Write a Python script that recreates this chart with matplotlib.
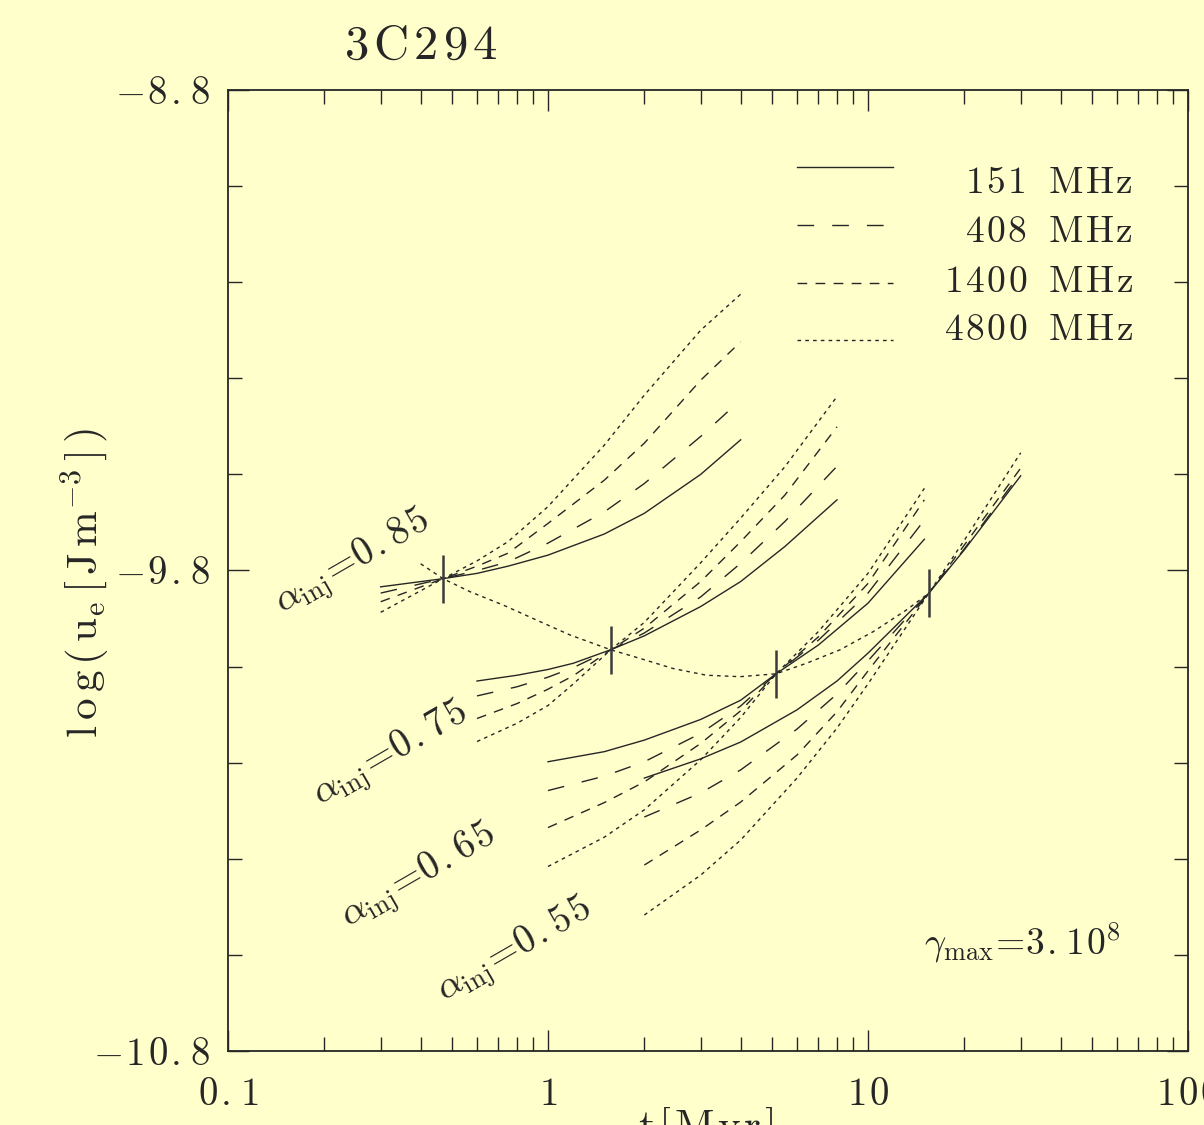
import numpy as np
import matplotlib as mpl
mpl.use('Agg')
import matplotlib.pyplot as plt
from matplotlib.ticker import FixedLocator, NullFormatter

mpl.rcParams['mathtext.fontset'] = 'cm'
mpl.rcParams['font.family'] = 'serif'
mpl.rcParams['font.serif'] = ['cmr10', 'DejaVu Serif']
mpl.rcParams['axes.formatter.use_mathtext'] = True

# ---- data ----
freq_labels = ['151 MHz', '408 MHz', '1400 MHz', '4800 MHz']
alpha_labels = ['0.85', '0.75', '0.65', '0.55']

# alpha_inj = 0.85
t_a = [0.3, 0.47, 0.6, 0.75, 1.0, 1.5, 2.0, 3.0, 4.0]
u_a = [
    [-9.834, -9.817, -9.806, -9.791, -9.768, -9.724, -9.681, -9.600, -9.528],
    [-9.847, -9.817, -9.800, -9.782, -9.743, -9.678, -9.619, -9.521, -9.445],
    [-9.865, -9.817, -9.791, -9.764, -9.702, -9.612, -9.535, -9.404, -9.324],
    [-9.887, -9.817, -9.780, -9.740, -9.667, -9.539, -9.435, -9.300, -9.225],
]
# alpha_inj = 0.75
t_b = [0.6, 0.8, 1.0, 1.2, 1.57, 2.0, 3.0, 4.0, 5.5, 8.0]
u_b = [
    [-10.030, -10.018, -10.006, -9.993, -9.965, -9.936, -9.875, -9.823, -9.750, -9.653],
    [-10.061, -10.042, -10.022, -10.002, -9.965, -9.930, -9.855, -9.785, -9.698, -9.583],
    [-10.108, -10.077, -10.047, -10.019, -9.965, -9.920, -9.823, -9.740, -9.643, -9.501],
    [-10.156, -10.118, -10.081, -10.036, -9.965, -9.908, -9.784, -9.691, -9.584, -9.438],
]
# alpha_inj = 0.65
t_c = [1.0, 1.5, 2.0, 3.0, 4.0, 5.16, 7.0, 10.0, 15.0]
u_c = [
    [-10.198, -10.177, -10.153, -10.110, -10.070, -10.015, -9.955, -9.868, -9.735],
    [-10.258, -10.228, -10.198, -10.139, -10.082, -10.015, -9.945, -9.847, -9.695],
    [-10.335, -10.283, -10.240, -10.160, -10.092, -10.015, -9.938, -9.827, -9.653],
    [-10.416, -10.355, -10.298, -10.194, -10.106, -10.015, -9.927, -9.806, -9.629],
]
# alpha_inj = 0.55
t_d = [2.0, 3.0, 4.0, 6.0, 8.0, 10.0, 15.5, 20.0, 30.0]
u_d = [
    [-10.232, -10.192, -10.157, -10.090, -10.030, -9.972, -9.847, -9.757, -9.603],
    [-10.313, -10.263, -10.215, -10.130, -10.057, -9.988, -9.847, -9.755, -9.597],
    [-10.413, -10.340, -10.282, -10.184, -10.094, -10.009, -9.847, -9.747, -9.587],
    [-10.517, -10.434, -10.361, -10.232, -10.128, -10.036, -9.847, -9.737, -9.555],
]

# locus through the crossing points
t_loc = [0.40, 0.47, 0.57, 0.725, 0.92, 1.17, 1.57, 1.94, 2.46, 3.13, 3.98,
         5.16, 6.43, 8.18, 10.4, 13.2, 15.5]
u_loc = [-9.786, -9.817, -9.844, -9.872, -9.903, -9.934, -9.965, -9.983, -10.004,
         -10.018, -10.021, -10.015, -9.993, -9.965, -9.927, -9.882, -9.847]

cross_t = [0.47, 1.57, 5.16, 15.5]
cross_u = [-9.817, -9.965, -10.015, -9.847]

xtick_vals = [0.1, 1, 10, 100]
xtick_labels = ['0.1', '1', '10', '100']
ytick_vals = [-10.8, -9.8, -8.8]
ytick_labels = ['-10.8', '-9.8', '-8.8']


def spaced(s, gap=0.1, word='\\ \\,'):
    # letter-spaced roman mathtext, like the old plotting package
    sep = '\\hspace{%g}' % gap
    out = []
    for ch in s:
        out.append(word if ch == ' ' else ch)
    return '$\\mathrm{' + sep.join(out) + '}$'


# ---- style ----
bg = '#ffffcc'
ink = '#262626'
styles = ['-', (0, (12, 13)), (0, (7, 6)), (0, (2.6, 3))]

fig = plt.figure(figsize=(12.04, 11.25), dpi=100, facecolor=bg)
ax = fig.add_axes([0.18937, 0.06578, 0.79734, 0.85422], facecolor=bg)

for t, u in [(t_a, u_a), (t_b, u_b), (t_c, u_c), (t_d, u_d)]:
    for k in range(4):
        ax.plot(t, u[k], color=ink, linestyle=styles[k], lw=1.0)

ax.plot(t_loc, u_loc, color=ink, linestyle=styles[3], lw=1.0)
ax.vlines(cross_t, np.array(cross_u) - 0.05, np.array(cross_u) + 0.05,
          color='#3a3a3a', lw=1.8)

ax.set_xscale('log')
ax.set_xlim(0.1, 100)
ax.set_ylim(-10.8, -8.8)

ax.set_xticks(xtick_vals)
ax.set_xticklabels([spaced(s, 0.08) for s in xtick_labels])
ax.xaxis.set_minor_formatter(NullFormatter())
ax.set_yticks(ytick_vals)
ax.set_yticklabels([spaced(s, 0.08) for s in ytick_labels])
ax.yaxis.set_minor_locator(FixedLocator(np.arange(-10.8, -8.79, 0.2)))

ax.tick_params(which='both', direction='in', top=True, right=True,
               color=ink, width=1.0, labelsize=28, labelcolor=ink)
ax.tick_params(which='major', length=15)
ax.tick_params(which='minor', length=10)
ax.tick_params(axis='x', which='major', pad=19)
ax.tick_params(axis='y', which='major', pad=13)
for sp in ax.spines.values():
    sp.set_linewidth(1.3)
    sp.set_color(ink)

# legend drawn by hand
leg_y_line = [0.9199, 0.8595, 0.7992, 0.7399]
leg_y_text = [0.9032, 0.8522, 0.8002, 0.7503]
for k in range(4):
    ax.plot([0.5927, 0.6927], [leg_y_line[k]] * 2, transform=ax.transAxes,
            color=ink, linestyle=styles[k], lw=1.0)
    ax.text(0.9427, leg_y_text[k], spaced(freq_labels[k], 0.08),
            transform=ax.transAxes, ha='right', va='center', fontsize=27, color=ink)

# alpha_inj labels
alpha_pos = [(0.1302, 0.5078), (0.1698, 0.3080), (0.1990, 0.1811), (0.2990, 0.1041)]
for (px, py), lab in zip(alpha_pos, alpha_labels):
    num = '\\hspace{0.06}'.join(lab)
    ax.text(px, py, '$\\alpha_{\\rm inj}\\!=\\!%s$' % num, transform=ax.transAxes,
            rotation=30, rotation_mode='anchor', ha='center', va='center',
            fontsize=28, color=ink)

ax.text(0.827, 0.1124,
        '$\\gamma_{\\rm max}\\!=\\!3\\hspace{0.06}.\\hspace{0.06}1\\hspace{0.06}0^{8}$',
        transform=ax.transAxes, ha='center', va='center', fontsize=27, color=ink)

ax.text(0.201, 1.0447, spaced('3C294', 0.12), transform=ax.transAxes,
        ha='center', va='center', fontsize=35, color=ink)

fig.text(0.0706, 0.4818,
         '$\\mathrm{l\\,o\\,g\\,(\\,u_e\\,[\\,J\\,m^{-3}\\,]\\,)}$',
         rotation=90, ha='center', va='center', fontsize=31, color=ink)
fig.text(0.586, 1 - 1106 / 1125, spaced('t[Myr]', 0.1), ha='center', va='top',
         fontsize=31, color=ink)

fig.savefig('out.png', dpi=100, facecolor=bg)
